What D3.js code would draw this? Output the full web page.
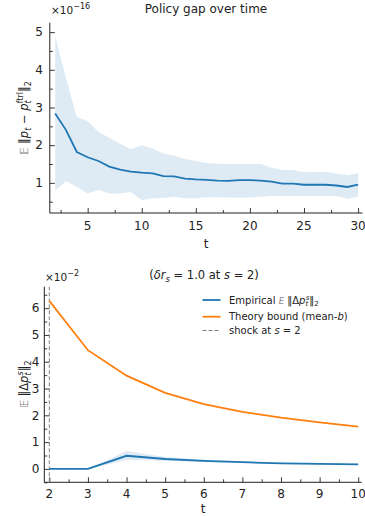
<!DOCTYPE html>
<html><head><meta charset="utf-8">
<script src="https://cdn.jsdelivr.net/npm/d3@7"></script>
<style>
body{margin:0;background:#fff;}
svg{display:block;font-family:"DejaVu Sans",sans-serif;}
</style></head>
<body><svg id="c" width="365" height="516"></svg>
<script>
// ---- Data: top panel (policy gap over time, ×1e-16)
const tTop = d3.range(2, 31);
const gapMean = [2.84,2.40,1.82,1.68,1.58,1.43,1.35,1.30,1.27,1.25,1.18,1.17,1.11,1.09,1.08,1.06,1.05,1.07,1.07,1.06,1.03,0.98,0.98,0.95,0.95,0.95,0.93,0.89,0.95];
const gapUpper = [4.89,3.77,2.75,2.64,2.35,2.20,2.04,1.89,2.00,1.91,1.78,1.72,1.63,1.58,1.53,1.51,1.50,1.50,1.50,1.50,1.40,1.34,1.34,1.28,1.29,1.29,1.25,1.20,1.26];
const gapLower = [0.79,1.05,0.89,0.72,0.81,0.72,0.72,0.76,0.54,0.59,0.60,0.63,0.59,0.59,0.62,0.62,0.61,0.61,0.61,0.63,0.65,0.65,0.65,0.65,0.65,0.65,0.65,0.58,0.63];
const topXTicks = [5,10,15,20,25,30];
const topYTicks = [1,2,3,4,5];

// ---- Data: bottom panel (shock response, ×1e-2)
const tBot = [2,3,4,5,6,7,8,9,10];
const empMean = [0,0,0.49,0.37,0.30,0.25,0.21,0.19,0.17];
const empUpper = [0,0,0.67,0.44,0.35,0.28,0.24,0.22,0.19];
const empLower = [0,0,0.33,0.30,0.25,0.22,0.19,0.17,0.15];
const theory = [6.27,4.43,3.48,2.84,2.42,2.13,1.91,1.74,1.58];
const shockS = 2;
const botXTicks = [2,3,4,5,6,7,8,9,10];
const botYTicks = [0,1,2,3,4,5,6];

const BLUE="#1f77b4", ORANGE="#ff7f0e", BAND="#1f77b4";
const svg = d3.select("#c");

function panel(o){
  const g = svg.append("g");
  const x = d3.scaleLinear().domain(o.xd).range(o.xr);
  const y = d3.scaleLinear().domain(o.yd).range(o.yr);
  const xa = d3.axisBottom(x).tickValues(o.xt).tickSize(-5).tickFormat("");
  const xm = d3.axisBottom(x).tickValues(o.xmin).tickSize(-3).tickFormat("");
  const ya = d3.axisLeft(y).tickValues(o.yt).tickSize(-5).tickFormat("");
  const ym = d3.axisLeft(y).tickValues(o.ymin).tickSize(-3).tickFormat("");
  [xa,xm].forEach(a=>{const s=g.append("g").attr("transform",`translate(0,${o.yr[0]})`).call(a);s.select(".domain").remove();s.selectAll("line").attr("stroke","#222").attr("stroke-width",0.9);});
  [ya,ym].forEach(a=>{const s=g.append("g").attr("transform",`translate(${o.xr[0]},0)`).call(a);s.select(".domain").remove();s.selectAll("line").attr("stroke","#222").attr("stroke-width",0.9);});
  g.append("line").attr("x1",o.xr[0]).attr("x2",o.xr[1]).attr("y1",o.yr[0]).attr("y2",o.yr[0]).attr("stroke","#222").attr("stroke-width",1);
  g.append("line").attr("x1",o.xr[0]).attr("x2",o.xr[0]).attr("y1",o.yr[0]).attr("y2",o.yr[1]).attr("stroke","#222").attr("stroke-width",1);
  g.selectAll(".xl").data(o.xt).join("text").attr("x",d=>x(d)).attr("y",o.xlBase).attr("text-anchor","middle").attr("font-size",12).attr("fill","#222").text(d=>d);
  g.selectAll(".yl").data(o.yt).join("text").attr("x",o.ylRight).attr("y",d=>y(d)).attr("dy","0.36em").attr("text-anchor","end").attr("font-size",12).attr("fill","#222").text(d=>d);
  return {g,x,y};
}

// ---------- top panel
const P1 = panel({xd:[1.5,30.4], xr:[49.8,362.4], yd:[0.2,5.25], yr:[213,22.7],
  xt:topXTicks, xmin:[2.5,7.5,12.5,17.5,22.5,27.5], yt:topYTicks, ymin:[0.5,1.5,2.5,3.5,4.5],
  xlBase:229.5, ylRight:43});
const area1 = d3.area().x((d,i)=>P1.x(tTop[i])).y0((d,i)=>P1.y(gapLower[i])).y1((d,i)=>P1.y(gapUpper[i]));
P1.g.insert("path",":first-child").attr("d",area1(tTop)).attr("fill",BAND).attr("fill-opacity",0.15);
const line1 = d3.line().x((d,i)=>P1.x(tTop[i])).y((d,i)=>P1.y(gapMean[i]));
P1.g.append("path").attr("d",line1(gapMean)).attr("fill","none").attr("stroke",BLUE).attr("stroke-width",1.8);

// ---------- bottom panel
const P2 = panel({xd:[1.87,10.09], xr:[44.3,361.7], yd:[-0.5,6.8], yr:[482.3,286.7],
  xt:botXTicks, xmin:[2.5,3.5,4.5,5.5,6.5,7.5,8.5,9.5], yt:botYTicks, ymin:[-0.5,0.5,1.5,2.5,3.5,4.5,5.5,6.5],
  xlBase:497.5, ylRight:39.5});
const area2 = d3.area().x((d,i)=>P2.x(tBot[i])).y0((d,i)=>P2.y(empLower[i])).y1((d,i)=>P2.y(empUpper[i]));
P2.g.insert("path",":first-child").attr("d",area2(tBot)).attr("fill",BAND).attr("fill-opacity",0.15);
P2.g.append("line").attr("x1",P2.x(shockS)).attr("x2",P2.x(shockS)).attr("y1",482.3).attr("y2",286.7)
  .attr("stroke","#808080").attr("stroke-width",1).attr("stroke-dasharray","4,2");
P2.g.append("path").attr("d",d3.line().x((d,i)=>P2.x(tBot[i])).y(d=>P2.y(d))(theory)).attr("fill","none").attr("stroke",ORANGE).attr("stroke-width",1.8);
P2.g.append("path").attr("d",d3.line().x((d,i)=>P2.x(tBot[i])).y(d=>P2.y(d))(empMean)).attr("fill","none").attr("stroke",BLUE).attr("stroke-width",1.8);

// ---------- texts
function txt(x,y,size,parts,anchor){
  const t = svg.append("text").attr("x",x).attr("y",y).attr("font-size",size).attr("fill","#222").attr("text-anchor",anchor||"start");
  parts.forEach(p=>{
    const s=t.append("tspan").text(p.t);
    if(p.it) s.attr("font-style","italic");
    if(p.sz) s.attr("font-size",p.sz);
    if(p.dx) s.attr("dx",p.dx);
    if(p.dy) s.attr("dy",p.dy);
    if(p.fill) s.attr("fill",p.fill);
  });
  return t;
}
txt(206,13,12,[{t:"Policy gap over time"}],"middle");
txt(51,14,10.5,[{t:"×10"},{t:"−16",sz:8,dy:-5}]);
txt(204,279,11.5,[{t:"("},{t:"δr",it:1},{t:"s",it:1,sz:8.5,dy:2.5},{t:" = 1.0 at ",dy:-2.5},{t:"s",it:1},{t:" = 2)"}],"middle");
txt(45,281,10.5,[{t:"×10"},{t:"−2",sz:8,dy:-5}]);
txt(206,248,12,[{t:"t"}],"middle");
txt(203,513,12,[{t:"t"}],"middle");

// y labels (rotated)
const yl1 = txt(0,0,11.5,[{t:"𝔼 ",sz:10.5,fill:"#777"},{t:"‖"},{t:"p",it:1},{t:"t",it:1,sz:8,dy:2.5},{t:" − ",dy:-2.5},{t:"p",it:1},{t:"t",it:1,sz:8,dy:2.5},{t:"ftrl",sz:8,dx:-3,dy:-8},{t:"‖",dy:5.5},{t:"2",sz:8,dy:2.5}],"middle");
yl1.attr("transform","translate(28,118) rotate(-90)");
const yl2 = txt(0,0,11.5,[{t:"𝔼 ",sz:10.5,fill:"#777"},{t:"‖Δ"},{t:"p",it:1},{t:"t",it:1,sz:8,dy:2.5},{t:"s",it:1,sz:8,dx:-3,dy:-8},{t:"‖",dy:5.5},{t:"2",sz:8,dy:2.5}],"middle");
yl2.attr("transform","translate(28,384) rotate(-90)");

// legend
const leg = svg.append("g");
const rows = [{c:BLUE,dash:null,y:300},{c:ORANGE,dash:null,y:316.7},{c:"#808080",dash:"4,2",y:330.5}];
rows.forEach(r=>{
  leg.append("line").attr("x1",202.5).attr("x2",220.5).attr("y1",r.y).attr("y2",r.y).attr("stroke",r.c).attr("stroke-width",r.dash?1:1.8).attr("stroke-dasharray",r.dash);
});
txt(229,303.5,10,[{t:"Empirical "},{t:"E",it:1,fill:"#888",sz:8.5},{t:" ‖Δ"},{t:"p",it:1},{t:"t",it:1,sz:7,dy:2},{t:"s",it:1,sz:7,dx:-2.5,dy:-6},{t:"‖",dy:4},{t:"2",sz:7,dy:2}]);
txt(229,320.2,10,[{t:"Theory bound (mean-"},{t:"b",it:1},{t:")"}]);
txt(229,334,10,[{t:"shock at "},{t:"s",it:1},{t:" = 2"}]);
</script></body></html>
